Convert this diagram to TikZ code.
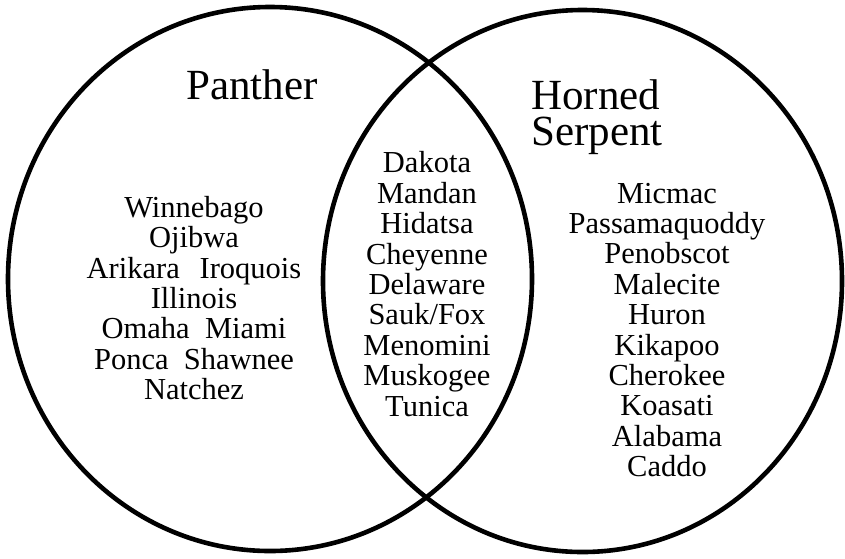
\documentclass[tikz,border=0pt]{standalone}
\usepackage{fontspec}
\setmainfont{Liberation Serif}
\usetikzlibrary{shapes.geometric,positioning}
\tikzset{
  setring/.style={draw,ellipse,line width=4.6pt,inner sep=0pt},
  setname/.style={font=\fontsize{43}{36}\selectfont,inner sep=0pt},
  tribelist/.style={align=center,inner sep=0pt,font=\fontsize{30.5}{30.4}\selectfont}
}
\begin{document}
\begin{tikzpicture}[x=1pt,y=-1pt]
\useasboundingbox[fill=white] (0,0) rectangle (845,558);
% the two sets
\node[setring, minimum width=524pt, minimum height=544pt] (panther) at (270,279) {};
\node[setring, minimum width=519pt, minimum height=542pt] (serpent) at (582.5,281) {};
% set names
\node[setname, anchor=south west] (hornedname) at (531,110) {Horned};
\node[setname, below=7pt of hornedname.south west, anchor=north west] (serpentname) {Serpent};
\node[setname] (panthername) at (252,85) {Panther};
% members
\node[tribelist] (pantherlist) at (194,298) {Winnebago\\Ojibwa\\Arikara\hspace{0.65em}Iroquois\\Illinois\\Omaha\ \ Miami\\Ponca\ \ Shawnee\\Natchez};
\node[tribelist] (bothlist) at (427,284) {Dakota\\Mandan\\Hidatsa\\Cheyenne\\Delaware\\Sauk/Fox\\Menomini\\Muskogee\\Tunica};
\node[tribelist] (serpentlist) at (667,330) {Micmac\\Passamaquoddy\\Penobscot\\Malecite\\Huron\\Kikapoo\\Cherokee\\Koasati\\Alabama\\Caddo};
\end{tikzpicture}
\end{document}
